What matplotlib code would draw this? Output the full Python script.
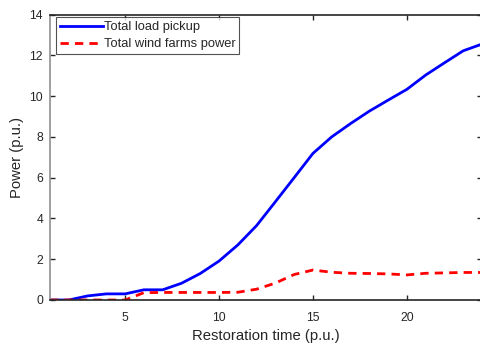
import matplotlib
matplotlib.use("Agg")
import matplotlib.pyplot as plt

plt.rcParams["font.family"] = ["Liberation Sans", "DejaVu Sans"]

hours = list(range(1, 25))
load_pickup = [0.0, 0.0, 0.2, 0.3, 0.3, 0.5, 0.5, 0.82, 1.3, 1.91, 2.7, 3.65,
               4.82, 6.0, 7.19, 8.0, 8.65, 9.26, 9.8, 10.33, 11.03, 11.63,
               12.22, 12.55]
wind_power = [0.0, 0.0, 0.0, 0.0, 0.0, 0.36, 0.37, 0.37, 0.37, 0.37, 0.38,
              0.53, 0.83, 1.25, 1.47, 1.36, 1.31, 1.3, 1.28, 1.23, 1.31, 1.33,
              1.35, 1.35]

x_ticks = [5, 10, 15, 20]
y_ticks = [0, 2, 4, 6, 8, 10, 12, 14]

text_color = "#262626"

fig = plt.figure(figsize=(4.81, 3.45), dpi=100)
ax = fig.add_axes([50 / 481, 45 / 345, 432 / 481, 285.5 / 345])

ax.plot(hours, load_pickup, color="#0000ff", lw=2, label="Total load pickup")
ax.plot(hours, wind_power, color="#ff0000", lw=2, ls=(0, (3, 2.2)),
        label="Total wind farms power")

ax.set_xlim(1, 24)
ax.set_ylim(0, 14)
ax.set_xticks(x_ticks)
ax.set_yticks(y_ticks)
ax.tick_params(direction="in", length=3.5, width=1, labelsize=8.7,
               colors=text_color)
ax.tick_params(axis="x", pad=8.5)
ax.tick_params(axis="y", pad=5)
ax.tick_params(axis="both", which="both", top=True, right=True)

for side in ("top", "bottom", "right"):
    ax.spines[side].set_color(text_color)
    ax.spines[side].set_linewidth(1.2)
ax.spines["left"].set_color("#909090")
ax.spines["left"].set_linewidth(1.2)

ax.set_xlabel("Restoration time (p.u.)", fontsize=10.7, color=text_color,
              labelpad=3.5)
ax.set_ylabel("Power (p.u.)", fontsize=10.7, color=text_color, labelpad=4)

leg = ax.legend(loc="upper left", bbox_to_anchor=(0.014, 0.99),
                borderaxespad=0, fontsize=9.3, frameon=True, fancybox=False,
                handlelength=3.3, handletextpad=0.1, borderpad=0.3,
                labelspacing=0.4)
leg.get_frame().set_edgecolor(text_color)
leg.get_frame().set_linewidth(0.8)
for t in leg.get_texts():
    t.set_color(text_color)

fig.savefig("out.png", dpi=100)
